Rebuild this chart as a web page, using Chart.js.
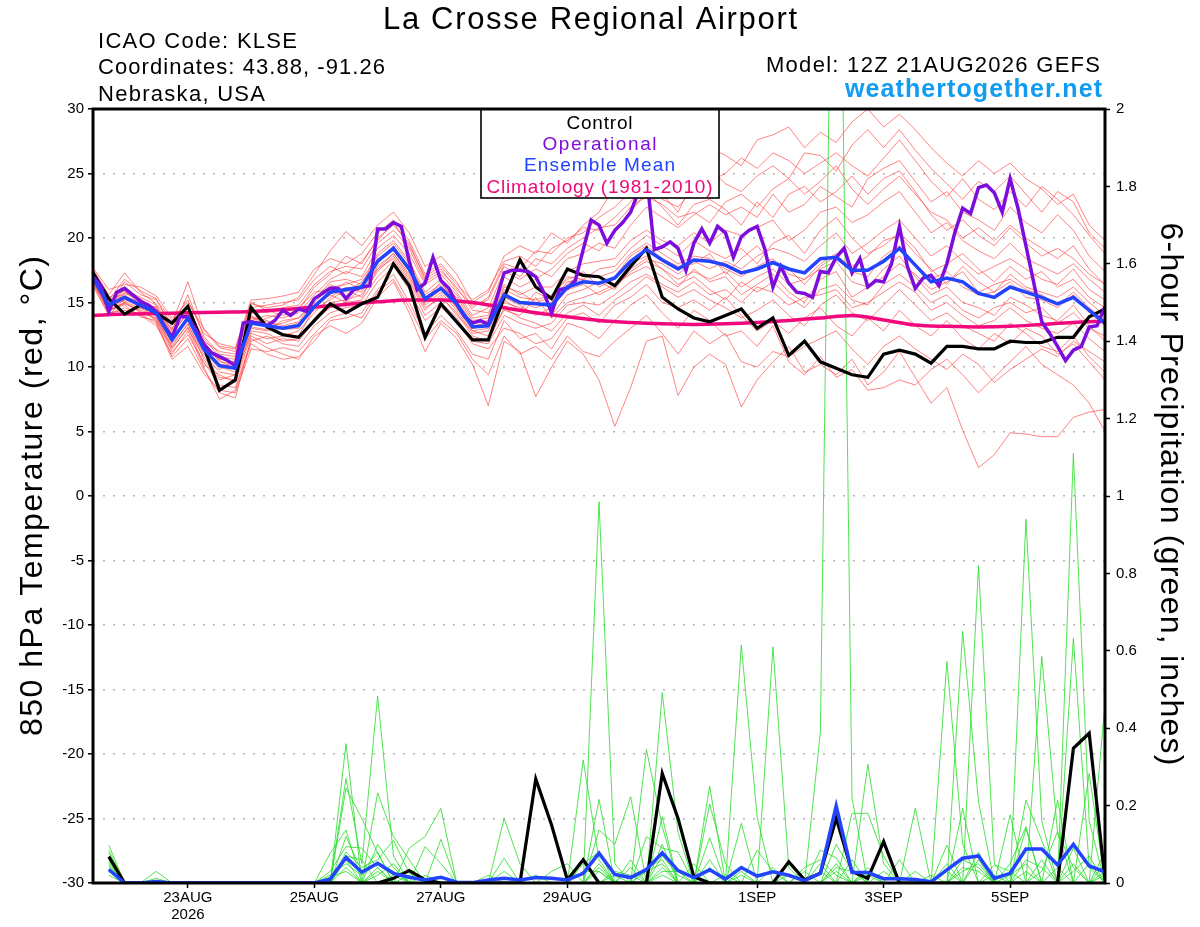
<!DOCTYPE html>
<html><head><meta charset="utf-8">
<script src="https://cdn.jsdelivr.net/npm/chart.js@4.4.1/dist/chart.umd.min.js"></script>
<style>html,body{margin:0;padding:0;background:#fff;overflow:hidden}</style>
</head><body>
<canvas id="c" width="1200" height="927"></canvas>
<script>
// ---------------- DATA ----------------
// time axis: hours after 12Z 21AUG2026
const tickHours = [36, 84, 132, 180, 252, 300, 348];
const tickLabels = [["23AUG", "2026"], "25AUG", "27AUG", "29AUG", "1SEP", "3SEP", "5SEP"];
const tempTicks = [-30, -25, -20, -15, -10, -5, 0, 5, 10, 15, 20, 25, 30];

// Control (6-hourly, 0..384h)
const controlTemp = [
17.3,15.3,14.1,14.8,14.2,13.4,14.7,11.6,8.2,9.0,14.6,13.1,12.5,
12.3,13.6,14.9,14.2,14.9,15.4,18.0,16.3,12.3,14.9,13.5,12.1,12.1,
15.4,18.3,16.2,15.3,17.6,17.1,17.0,16.3,17.8,19.2,15.4,14.5,13.8,
13.5,14.0,14.5,13.0,13.8,10.9,12.0,10.4,9.9,9.4,9.2,11.0,11.3,
11.0,10.3,11.6,11.6,11.4,11.4,12.0,11.9,11.9,12.3,12.3,13.9,14.5];

// Ensemble mean (6-hourly)
const meanTemp = [
16.9,14.8,15.4,14.8,14.2,12.1,13.8,11.4,10.1,9.9,13.4,13.2,13.0,
13.2,14.7,15.8,16.0,16.2,18.2,19.2,17.6,15.3,16.1,14.9,13.1,13.2,
15.6,15.0,14.9,14.8,16.2,16.6,16.5,16.9,18.2,19.1,18.3,17.6,18.3,
18.2,17.9,17.3,17.6,18.1,17.6,17.3,18.4,18.5,17.5,17.5,18.2,19.2,
17.9,16.6,16.9,16.6,15.7,15.4,16.2,15.8,15.4,14.9,15.4,14.4,13.4];

// Operational (3-hourly, 0..384h)
const operationalTemp = [
17.0,16.3,14.3,15.8,16.1,15.6,15.1,14.8,14.3,13.2,
12.3,13.9,13.9,12.9,11.8,11.1,10.8,10.5,10.1,13.4,
13.5,13.4,13.2,13.6,14.4,14.0,14.5,14.3,15.3,15.7,
16.1,16.1,15.3,16.0,16.2,16.3,20.7,20.7,21.2,20.9,
18.2,16.0,16.5,18.5,16.7,16.1,14.9,13.9,13.4,13.6,
13.3,15.2,17.3,17.5,17.5,17.4,17.0,15.8,14.2,16.0,
16.1,16.7,19.1,21.4,21.0,19.6,20.6,21.2,22.0,23.6,
25.0,19.1,19.3,19.7,19.2,17.5,19.6,20.7,19.6,20.9,
20.4,18.5,20.1,20.6,20.9,19.1,16.2,17.8,16.5,15.8,
15.7,15.4,17.4,17.3,18.5,19.2,17.3,18.4,16.2,16.7,
16.6,18.0,20.9,17.8,16.1,16.9,17.1,16.3,18.0,20.4,
22.3,21.9,23.9,24.1,23.5,22.0,24.6,22.3,19.4,16.5,
13.5,12.6,11.6,10.5,11.3,11.6,13.1,13.2,14.7];

// Climatology 1981-2010 (12-hourly)
const climatologyTemp = [
14.0,14.1,14.15,14.2,14.25,14.3,14.45,14.65,14.85,15.05,15.2,15.2,15.0,
14.6,14.2,13.9,13.6,13.45,13.35,13.3,13.35,13.45,13.6,13.8,14.0,13.65,
13.25,13.15,13.1,13.15,13.3,13.45,13.55];

// Ensemble member temperatures (6-hourly)
const m01 = [17.2,15.0,15.8,15.1,14.6,12.6,14.2,11.8,10.4,10.2,13.8,13.5,13.2, 13.5,15.0,16.2,16.4,16.8,18.6,19.6,18.0,15.6,16.4,15.2,13.4,13.6, 16.0,15.4,15.2,15.6,16.8,17.2,17.0,17.4,18.8,19.6,18.8,18.0,18.6, 18.4,17.6,17.0,17.8,18.4,17.2,16.8,18.0,18.8,17.4,17.0,18.6,19.4, 18.0,16.8,17.4,16.2,15.6,15.8,16.6,15.4,15.2,14.6,15.6,14.2,13.2];
const m02 = [16.5,14.3,15.0,14.2,13.8,11.5,13.0,10.8,9.2,9.0,12.8,12.6,12.0, 12.2,13.8,15.0,15.2,15.6,17.4,18.6,16.8,14.6,15.4,14.2,12.4,12.0, 14.6,13.8,13.4,12.8,14.2,14.8,14.0,15.2,16.0,17.0,16.2,15.4,16.0, 15.2,14.6,13.8,14.4,15.2,14.0,13.2,14.8,15.6,14.2,13.6,14.8,16.0, 14.8,13.6,14.2,13.2,12.6,12.0,13.4,12.6,11.6,11.2,12.4,10.8,9.6];
const m03 = [17.6,15.6,17.3,15.8,14.9,13.4,16.6,12.9,11.5,11.2,14.9,14.6,14.8, 15.4,17.2,19.0,20.5,19.4,21.0,22.0,20.4,17.8,18.6,17.2,15.0,15.8, 18.6,19.4,18.8,20.4,19.6,21.0,22.0,24.0,25.0,27.0,26.0,25.0,26.0, 27.0,26.4,25.6,27.6,28.0,28.6,27.0,28.2,27.4,29.0,30.0,28.6,29.6, 28.4,27.0,25.8,24.8,26.0,25.0,25.8,24.6,23.8,22.6,23.4,21.0,19.8];
const m04 = [16.8,14.6,15.2,14.9,13.5,10.8,12.2,9.8,8.0,7.6,12.2,11.5,11.0, 10.6,12.4,13.2,12.6,13.4,15.4,16.6,14.2,11.2,13.4,12.2,10.2,7.0, 12.0,11.2,7.7,10.0,12.0,11.0,9.0,5.4,8.4,12.0,12.4,7.8,10.0, 11.0,10.2,6.9,9.0,10.4,11.6,9.6,10.2,9.4,10.6,8.6,9.6,11.2, 9.2,7.2,8.4,5.1,2.2,3.2,4.9,4.8,4.6,4.6,6.1,6.5,6.7];
const m05 = [17.0,14.9,16.0,15.4,14.8,12.8,14.6,12.2,10.8,10.6,13.6,14.0,13.8, 14.2,15.6,16.8,17.4,17.0,19.2,20.2,18.8,16.4,17.2,15.8,14.0,14.6, 17.4,16.8,17.6,17.0,18.4,18.8,19.6,19.2,21.0,22.4,21.6,20.8,21.8, 22.6,21.8,22.4,21.6,23.4,22.0,22.6,24.0,23.2,22.4,24.6,25.4,26.0, 24.4,22.8,23.6,22.0,21.4,20.6,22.4,21.2,20.4,21.8,20.6,18.6,17.4];
const m06 = [16.4,14.1,14.6,14.0,13.2,11.0,12.8,10.0,7.5,8.2,11.8,11.0,10.6, 10.8,12.0,13.6,13.8,14.2,16.0,17.2,15.0,12.6,14.0,12.8,11.0,10.6, 13.6,12.2,12.6,11.4,13.4,13.0,12.2,13.6,14.8,15.6,14.2,13.0,14.4, 13.6,12.4,12.8,11.6,13.2,10.4,9.4,10.8,9.2,9.8,8.2,8.4,9.0, 8.6,9.8,10.6,9.4,8.0,9.2,10.4,11.6,10.2,9.4,8.6,7.2,5.0];
const m07 = [17.4,15.3,15.6,14.6,14.4,12.4,13.6,11.6,10.0,9.6,13.2,13.8,14.2, 14.6,15.8,16.0,15.4,16.4,18.0,19.4,17.4,15.0,16.0,14.6,12.8,13.0, 15.2,14.4,15.8,15.2,16.4,17.4,16.2,16.8,18.0,18.6,17.6,16.8,17.4, 16.8,17.4,16.2,17.0,17.6,16.4,16.8,17.6,18.2,16.6,16.2,17.0,18.0, 17.2,16.0,16.6,17.4,15.8,16.4,16.8,16.0,15.6,14.8,15.8,14.6,13.6];
const m08 = [16.9,14.7,16.6,15.6,15.2,13.6,15.2,12.6,11.8,11.5,15.2,15.3,15.5, 15.8,17.6,18.4,18.0,18.8,20.4,21.4,19.8,17.2,18.0,16.6,14.6,15.4, 18.0,17.6,19.0,18.8,20.0,20.4,21.6,22.4,23.6,24.6,23.0,22.4,23.8, 24.4,25.0,26.2,25.4,26.6,26.0,25.0,25.8,26.6,25.6,24.8,26.2,27.6, 26.0,24.4,23.2,24.6,23.0,22.2,23.6,22.4,24.0,23.0,21.8,20.2,18.8];
const m09 = [16.6,14.4,14.9,14.4,14.0,11.8,13.3,11.0,9.6,9.4,12.6,12.2,12.4, 12.8,14.2,15.4,16.2,15.8,17.8,18.8,17.0,14.8,15.8,14.4,12.6,12.8, 15.0,14.6,14.2,14.0,15.6,16.0,16.6,16.0,17.6,18.4,18.0,17.2,18.2, 17.6,18.2,17.6,18.6,19.2,18.8,18.2,19.4,20.4,18.8,19.6,20.6,21.4, 20.0,18.6,19.4,18.2,17.2,17.8,18.4,17.6,16.8,16.4,17.6,16.0,15.2];
const m10 = [17.1,15.1,15.5,15.0,14.1,12.0,14.0,11.2,10.2,10.0,14.0,13.0,12.6, 12.4,14.6,15.6,16.6,16.0,18.4,19.0,17.4,15.4,16.2,15.4,13.6,13.8, 16.2,15.8,15.0,15.4,17.0,16.8,17.6,17.8,19.2,20.2,19.4,18.6,19.8, 19.0,18.4,19.2,18.0,19.6,20.2,18.8,20.6,21.6,20.0,18.8,19.4,20.4, 19.2,17.4,18.0,18.8,17.6,16.6,17.8,16.8,17.4,16.2,16.8,15.4,14.6];
const m11 = [17.3,14.8,16.2,15.2,14.5,12.9,15.6,12.4,11.0,10.8,14.4,14.2,14.6, 14.8,16.4,17.4,17.8,17.6,19.6,20.6,19.2,16.6,17.4,16.2,14.4,14.2, 17.0,16.2,16.8,17.6,18.8,19.6,19.0,20.4,22.0,23.6,22.4,21.0,22.6, 23.0,22.2,21.0,22.8,21.6,23.4,24.0,22.8,23.6,24.8,23.4,24.6,25.2, 23.6,21.8,20.6,21.4,20.2,19.4,20.8,19.6,18.6,19.2,18.4,17.2,16.4];
const m12 = [16.7,14.5,14.8,13.9,13.6,11.2,12.5,10.4,8.6,8.4,12.0,12.4,11.8, 11.6,13.2,14.2,14.6,14.8,16.6,17.8,16.0,13.6,14.6,13.6,11.8,11.4, 13.0,12.6,11.8,12.2,13.8,14.2,13.4,14.8,15.4,16.4,15.0,14.6,15.2, 14.4,15.4,14.0,12.8,13.6,12.6,13.8,14.6,13.2,12.4,13.8,12.8,14.4, 13.2,12.4,13.6,12.2,11.4,12.6,11.8,13.0,12.4,11.0,11.8,10.4,9.0];
const m13 = [17.5,15.4,15.9,14.8,14.2,12.2,13.9,11.5,10.6,10.4,13.5,13.1,13.4, 13.8,15.2,16.4,15.8,16.6,18.2,19.2,17.8,15.2,16.6,14.8,13.2,13.4, 15.8,15.0,14.6,15.0,16.6,16.8,16.4,17.0,18.6,19.4,18.4,17.8,18.0, 18.8,17.2,18.4,19.4,18.0,17.6,16.4,17.8,18.6,17.8,18.6,19.8,20.2, 18.8,17.6,16.4,17.8,16.6,15.8,17.2,16.2,15.8,15.4,16.2,15.0,14.0];
const m14 = [16.3,14.0,15.3,14.6,13.9,11.6,13.4,10.6,9.0,9.4,13.0,12.8,13.0, 13.4,14.4,15.2,16.0,15.4,17.6,18.4,16.6,14.4,15.6,14.0,12.8,12.4, 14.4,14.0,15.4,13.8,15.0,15.4,15.8,16.4,17.2,17.8,17.0,16.2,17.6, 16.6,17.0,15.6,16.4,17.2,15.8,15.0,16.8,17.4,15.4,16.2,17.6,18.6, 17.0,15.6,16.2,15.0,14.6,14.0,15.4,14.8,14.0,13.6,14.8,13.2,12.0];
const m15 = [17.0,15.2,16.8,15.9,15.3,13.0,14.8,12.0,11.2,11.0,14.6,14.8,15.0, 15.2,16.8,17.8,17.2,18.2,19.8,21.2,19.4,17.0,17.8,16.4,15.2,16.0, 18.2,18.6,17.8,19.2,19.8,20.8,20.6,21.6,22.8,24.2,23.4,22.0,24.6, 25.4,24.2,23.6,24.8,25.6,24.6,26.6,26.4,25.2,27.2,28.4,27.0,28.4, 26.8,25.4,24.2,23.0,24.4,23.6,24.8,23.4,22.0,23.6,22.8,20.4,19.2];
const m16 = [16.8,14.2,14.4,14.1,13.4,10.6,11.6,9.5,8.2,8.0,11.4,11.2,11.5, 11.2,12.6,13.8,14.2,13.8,15.8,16.8,14.6,12.2,13.6,12.6,10.6,9.4, 12.4,11.0,11.6,10.6,12.4,11.2,10.8,12.0,13.0,14.0,12.6,11.0,12.8, 11.8,12.6,10.4,10.0,11.2,10.8,11.6,12.2,12.8,11.4,10.2,11.6,12.4, 11.4,10.6,9.8,11.0,10.2,8.8,9.8,10.6,11.4,10.8,12.0,11.2,10.4];
const m17 = [17.2,14.9,15.1,14.5,14.7,12.5,14.3,11.9,10.5,9.8,13.9,13.6,12.9, 13.0,15.2,16.6,16.8,16.4,18.8,19.8,18.2,15.8,16.8,15.6,13.8,14.0, 16.4,15.6,16.2,16.2,17.4,18.0,18.2,18.4,19.8,20.6,19.8,19.4,20.4, 19.6,20.6,20.2,20.8,21.4,19.8,20.6,22.0,22.4,21.2,21.8,22.8,23.6, 22.0,20.4,21.2,19.8,19.0,18.4,19.6,18.4,17.8,17.2,18.0,16.8,15.8];
const m18 = [16.6,14.6,15.7,15.3,14.3,12.3,13.7,11.3,9.8,10.5,13.1,12.9,13.6, 13.8,14.8,15.6,15.0,16.2,17.6,18.8,17.2,15.0,16.2,14.6,13.0,13.2, 15.4,14.8,14.0,14.6,16.0,16.4,15.6,16.2,17.4,18.2,17.6,16.4,17.0, 16.0,15.2,16.6,15.8,16.6,15.4,14.6,16.0,16.4,15.2,14.8,16.4,17.2, 16.2,15.0,15.6,14.4,13.8,14.6,15.0,14.2,14.6,13.4,14.2,13.0,12.4];
const m19 = [17.7,16.0,16.4,16.2,15.5,13.8,15.0,13.0,11.6,11.4,15.0,14.4,14.0, 14.4,16.2,17.2,18.6,18.0,20.0,21.0,19.6,16.8,17.6,16.0,14.8,15.2, 17.8,17.0,18.4,18.0,19.2,20.0,20.8,21.0,22.4,23.2,22.6,21.6,22.0, 21.2,22.8,23.4,22.4,23.8,24.6,23.4,24.4,25.6,23.8,22.6,23.8,24.8, 23.4,22.0,21.4,20.0,20.8,19.8,21.0,20.0,19.2,18.4,19.4,17.6,16.4];
const m20 = [16.9,14.4,15.0,14.3,13.7,11.4,13.1,10.2,9.4,8.8,12.4,11.8,12.2, 12.0,13.6,14.6,15.0,15.2,17.0,18.2,16.4,14.0,15.0,13.8,12.0,11.8, 14.0,13.4,13.0,13.4,14.8,15.0,14.8,15.6,16.6,17.2,16.4,15.8,16.6, 15.6,16.0,15.0,16.2,15.8,14.8,15.4,15.6,16.0,14.6,15.0,15.8,16.6, 15.8,14.4,15.0,14.0,13.2,13.6,14.6,13.6,13.0,12.6,13.4,12.2,11.2];
const tempMembers = [m01,m02,m03,m04,m05,m06,m07,m08,m09,m10,m11,m12,m13,m14,m15,m16,m17,m18,m19,m20];

// 6-hour precipitation (inches), steps 1..64 (6h..384h)
const controlPrecip = [
.068,0,0,0,0,0,0,0,0,0,
0,0,0,0,0,0,0,0,.012,.032,
.008,0,0,0,0,0,0,.269,.15,.008,
.06,0,0,0,0,.283,.167,.016,0,0,
0,0,0,.055,.008,.025,.167,.03,.012,.107,
0,0,0,0,0,0,0,0,0,0,
0,.348,.387,.008];
const meanPrecip = [
.035,0,0,.004,0,0,0,0,0,0,
0,0,0,0,.01,.066,.028,.051,.025,.015,
.008,.015,.002,.001,.008,.012,.008,.014,.012,.008,
.025,.077,.022,.014,.035,.078,.032,.014,.034,.01,
.04,.018,.029,.02,.006,.025,.199,.027,.027,.011,
.011,.009,.003,.034,.064,.07,.012,.025,.088,.088,
.047,.1,.044,.029];

// Ensemble member precipitation: [step, inches] for non-zero steps
const p01 = [[1,.098],[16,.36],[18,.10],[19,.04],[32,.985],[33,.05],[36,.10],[41,.154],[47,.10],[48,.03],[55,.65],[56,.21],[59,.14],[62,1.11],[63,.16]];
const p02 = [[1,.077],[16,.27],[17,.05],[18,.483],[19,.07],[22,.113],[31,.318],[32,.06],[36,.171],[39,.25],[43,.61],[44,.04],[49,.307],[50,.05],[54,.098],[59,.94],[60,.16],[64,.08]];
const p03 = [[1,.06],[4,.03],[16,.245],[17,.167],[18,.077],[20,.09],[21,.12],[22,.193],[35,.345],[36,.146],[41,.615],[42,.17],[46,.39],[47,3.4],[48,.22],[55,.193],[60,.585],[61,.13]];
const p04 = [[1,.04],[15,.077],[16,.137],[18,.233],[19,.12],[20,.06],[26,.167],[27,.05],[32,.216],[34,.06],[36,.492],[37,.13],[48,.18],[49,.18],[50,.07],[52,.193],[56,.82],[57,.05],[62,.632],[63,.04]];
const p05 = [[1,.02],[15,.03],[16,.094],[17,.09],[18,.04],[21,.094],[22,.05],[32,.137],[33,.1],[34,.223],[39,.204],[40,.05],[46,.085],[47,.065],[54,.572],[55,.1],[58,.176],[61,.214],[64,.464]];
const p06 = [[1,.05],[4,.012],[16,.08],[17,.04],[18,.06],[19,.11],[20,.025],[26,.064],[31,.05],[32,.08],[35,.12],[36,.09],[37,.08],[39,.117],[45,.04],[46,.06],[47,.02],[54,.05],[56,.08],[59,.214],[60,.11],[63,.283]];
const p07 = [[1,.03],[16,.06],[18,.03],[29,.03],[30,.05],[32,.05],[35,.04],[36,.06],[42,.085],[43,.03],[49,.04],[51,.06],[55,.04],[56,.03],[58,.05],[59,.146],[62,.09],[64,.03]];
const p08 = [[1,.065],[15,.02],[16,.05],[17,.02],[18,.05],[19,.03],[33,.03],[34,.02],[36,.04],[38,.05],[41,.03],[44,.02],[47,.04],[48,.03],[57,.047],[58,.03],[60,.03],[61,.133],[62,.04]];
const p09 = [[1,.085],[16,.12],[17,.03],[18,.08],[20,.02],[28,.02],[32,.04],[36,.03],[37,.03],[40,.02],[46,.03],[50,.03],[53,.02],[55,.03],[56,.05],[59,.06],[60,.04],[63,.05]];
const p10 = [[1,.045],[16,.04],[18,.02],[19,.05],[25,.02],[32,.03],[35,.03],[36,.05],[39,.04],[45,.03],[47,.03],[49,.03],[54,.03],[57,.02],[59,.03],[62,.05],[64,.02]];
const p11 = [[1,.03],[16,.07],[17,.06],[19,.02],[31,.03],[32,.03],[34,.04],[36,.07],[37,.02],[43,.04],[46,.05],[48,.06],[55,.06],[56,.04],[60,.06],[62,.03],[63,.07]];
const p12 = [[1,.055],[15,.015],[16,.03],[18,.04],[21,.02],[26,.03],[33,.02],[36,.02],[39,.06],[41,.02],[47,.05],[49,.02],[52,.03],[56,.06],[58,.02],[59,.05],[61,.04],[64,.05]];
const precipMembers = [p01,p02,p03,p04,p05,p06,p07,p08,p09,p10,p11,p12];

// ---------------- HELPERS ----------------
const STEPS = 64;
function series(values, stepHours, startHour) {
  return values.map((v, i) => ({ x: startHour + i * stepHours, y: v }));
}
function sparseSeries(pairs) {
  const vals = new Array(STEPS).fill(0);
  pairs.forEach(([k, v]) => { vals[k - 1] = v; });
  return series(vals, 6, 6);
}

const RED = 'rgba(255,60,60,0.75)';
const GREEN = 'rgba(40,220,40,0.9)';
const BLACK = '#000000';
const PURPLE = '#7d0ddc';
const BLUE = '#2244ff';
const PINK = '#f0087c';
const FONT = "'Liberation Sans', Arial, Helvetica, sans-serif";

const base = { pointRadius: 0, pointHoverRadius: 0, fill: false, tension: 0, borderCapStyle: 'butt' };
const datasets = [];
datasets.push(Object.assign({}, base, { label: 'Ensemble Mean', data: series(meanTemp, 6, 0), yAxisID: 'y', borderColor: BLUE, borderWidth: 3.5, order: 1 }));
datasets.push(Object.assign({}, base, { label: 'Operational', data: series(operationalTemp, 3, 0), yAxisID: 'y', borderColor: PURPLE, borderWidth: 3.5, order: 2 }));
datasets.push(Object.assign({}, base, { label: 'Control', data: series(controlTemp, 6, 0), yAxisID: 'y', borderColor: BLACK, borderWidth: 3.2, order: 3 }));
datasets.push(Object.assign({}, base, { label: 'Climatology', data: series(climatologyTemp, 12, 0), yAxisID: 'y', borderColor: PINK, borderWidth: 3.5, cubicInterpolationMode: 'monotone', order: 4 }));
datasets.push(Object.assign({}, base, { label: 'Mean precip', data: series(meanPrecip, 6, 6), yAxisID: 'y2', borderColor: BLUE, borderWidth: 3.5, order: 5 }));
datasets.push(Object.assign({}, base, { label: 'Control precip', data: series(controlPrecip, 6, 6), yAxisID: 'y2', borderColor: BLACK, borderWidth: 3.2, order: 6 }));
precipMembers.forEach((p, i) => datasets.push(Object.assign({}, base, { label: 'P' + (i + 1), data: sparseSeries(p), yAxisID: 'y2', borderColor: GREEN, borderWidth: 0.9, order: 20 + i })));
tempMembers.forEach((m, i) => datasets.push(Object.assign({}, base, { label: 'T' + (i + 1), data: series(m, 6, 0), yAxisID: 'y', borderColor: RED, borderWidth: 0.85, order: 50 + i })));

function fitText(ctx, text, x, y, font, width, align, color) {
  ctx.save();
  ctx.font = font; ctx.fillStyle = color; ctx.textBaseline = 'alphabetic'; ctx.textAlign = 'left';
  const w0 = ctx.measureText(text).width;
  const n = [...text].length;
  const left = align === 'center' ? x - width / 2 : (align === 'right' ? x - width : x);
  let done = false;
  if ('letterSpacing' in ctx && n > 1) {
    ctx.letterSpacing = ((width - w0) / (n - 1)) + 'px';
    const w1 = ctx.measureText(text).width;
    if (Math.abs(w1 - w0) > 0.5 || Math.abs(width - w0) < 1) { ctx.fillText(text, left, y); done = true; }
  }
  if (!done) {
    ctx.translate(left, y); ctx.scale(width / w0, 1); ctx.fillText(text, 0, 0);
  }
  ctx.restore();
}

const decor = {
  id: 'decor',
  beforeDraw(chart) {
    const c = chart.ctx; c.save(); c.fillStyle = '#fff'; c.fillRect(0, 0, chart.width, chart.height); c.restore();
  },
  afterDraw(chart) {
    const ctx = chart.ctx, a = chart.chartArea;
    // legend box
    ctx.save();
    ctx.fillStyle = '#fff';
    ctx.fillRect(481, a.top, 238, 89);
    ctx.strokeStyle = '#000'; ctx.lineWidth = 1.6;
    ctx.strokeRect(481, a.top, 238, 89);
    ctx.restore();
    fitText(ctx, 'Control', 599.5, 128.5, '19px ' + FONT, 66, 'center', BLACK);
    fitText(ctx, 'Operational', 599.5, 149.5, '19px ' + FONT, 114, 'center', PURPLE);
    fitText(ctx, 'Ensemble Mean', 599.5, 171, '19px ' + FONT, 151, 'center', BLUE);
    fitText(ctx, 'Climatology (1981-2010)', 599.5, 193, '19px ' + FONT, 226, 'center', PINK);
    // plot frame
    ctx.save();
    ctx.strokeStyle = '#000'; ctx.lineWidth = 3;
    ctx.strokeRect(a.left, a.top, a.right - a.left, a.bottom - a.top);
    ctx.restore();
    // header
    fitText(ctx, 'La Crosse Regional Airport', 590, 29, '31px ' + FONT, 414, 'center', '#000');
    fitText(ctx, 'ICAO Code: KLSE', 98, 48, '22px ' + FONT, 199, 'left', '#000');
    fitText(ctx, 'Coordinates: 43.88, -91.26', 98, 74, '22px ' + FONT, 287, 'left', '#000');
    fitText(ctx, 'Nebraska, USA', 98, 101, '22px ' + FONT, 167, 'left', '#000');
    fitText(ctx, 'Model: 12Z 21AUG2026 GEFS', 1100, 72, '22px ' + FONT, 334, 'right', '#000');
    fitText(ctx, 'weathertogether.net', 1102, 97, 'bold 25px ' + FONT, 257, 'right', '#109cf0');
    // axis titles
    ctx.save();
    ctx.translate(42, 496); ctx.rotate(-Math.PI / 2);
    fitText(ctx, '850 hPa Temperature (red, °C)', 0, 0, '32px ' + FONT, 480, 'center', '#000');
    ctx.restore();
    ctx.save();
    ctx.translate(1161, 494); ctx.rotate(Math.PI / 2);
    fitText(ctx, '6-hour Precipitation (green, inches)', 0, 0, '32px ' + FONT, 543, 'center', '#000');
    ctx.restore();
  }
};

Chart.defaults.font.family = FONT;
Chart.defaults.color = '#000';

new Chart(document.getElementById('c'), {
  type: 'line',
  data: { datasets },
  plugins: [decor],
  options: {
    responsive: false, animation: false, devicePixelRatio: 1,
    layout: { padding: { top: 109, left: 0, right: 0, bottom: 0 } },
    plugins: { legend: { display: false }, tooltip: { enabled: false } },
    events: [],
    scales: {
      x: {
        type: 'linear', min: 0, max: 384,
        afterBuildTicks(s) { s.ticks = tickHours.map(v => ({ value: v })); },
        afterFit(s) { s.height = 44; },
        ticks: {
          autoSkip: false, maxRotation: 0, padding: 2, color: '#000',
          font: { size: 15, lineHeight: 1.1 },
          callback(v) { const i = tickHours.indexOf(v); return i >= 0 ? tickLabels[i] : ''; }
        },
        grid: { drawOnChartArea: false, drawTicks: true, tickLength: 5, tickColor: '#000', tickWidth: 1.5 },
        border: { display: false }
      },
      y: {
        position: 'left', min: -30, max: 30,
        afterBuildTicks(s) { s.ticks = tempTicks.map(v => ({ value: v })); },
        afterFit(s) { s.width = 93; },
        ticks: { padding: 4, color: '#000', font: { size: 15 } },
        grid: { color: '#b4b4b4', lineWidth: 1.6, drawTicks: true, tickLength: 5, tickColor: '#000', tickWidth: 1.5 },
        border: { display: false, dash: [2, 8] }
      },
      y2: {
        position: 'right', min: 0, max: 2,
        afterFit(s) { s.width = 95; },
        ticks: { stepSize: 0.2, padding: 6, color: '#000', font: { size: 15 }, callback(v) { return String(+v.toFixed(1)); } },
        grid: { drawOnChartArea: false, drawTicks: true, tickLength: 5, tickColor: '#000', tickWidth: 1.5 },
        border: { display: false }
      }
    }
  }
});
</script>
</body></html>
